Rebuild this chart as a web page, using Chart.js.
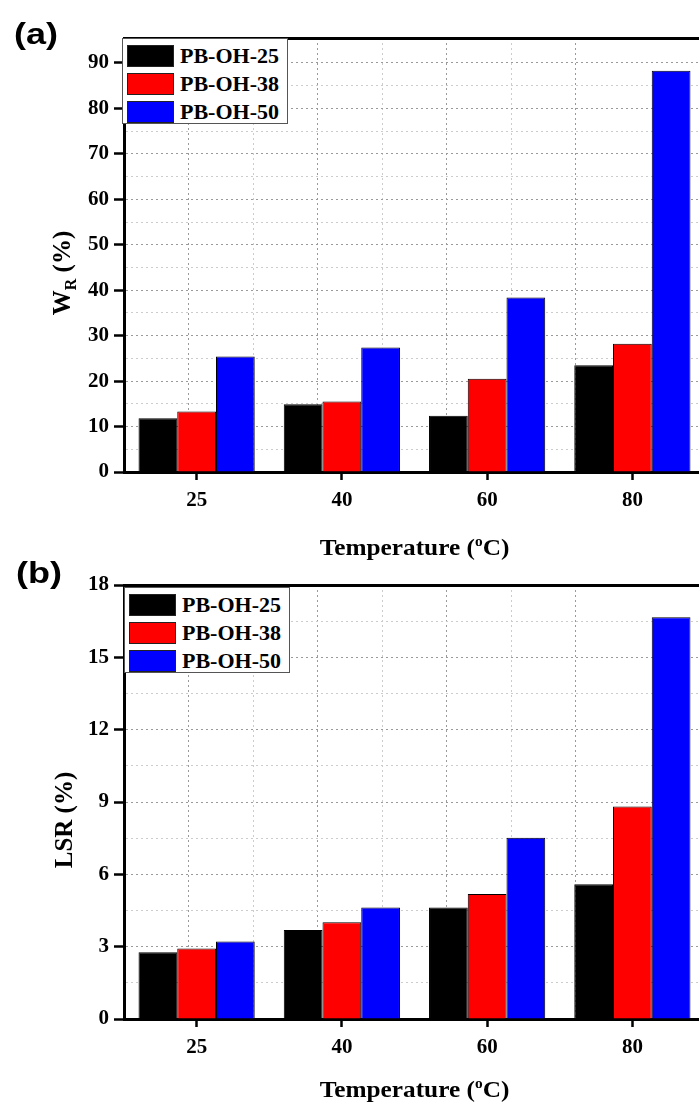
<!DOCTYPE html>
<html>
<head>
<meta charset="utf-8">
<script src="https://cdn.jsdelivr.net/npm/chart.js@4.4.0/dist/chart.umd.min.js"></script>
<style>
  html, body { margin: 0; padding: 0; background: #fff; overflow: hidden; width: 699px; height: 1103px; }
  #page { position: relative; width: 699px; height: 1103px; overflow: hidden; }
  #page canvas { position: absolute; left: 0; display: block; }
  .legend { position: absolute; background: #fff; border: 1px solid #555; box-sizing: border-box;
            font: bold 22px 'Liberation Serif', 'Times New Roman', serif; color: #000; }
  .legend .sw { position: absolute; left: 4px; width: 47px; height: 22px; border: 1px solid #222; box-sizing: border-box; }
  .legend .lab { position: absolute; left: 57px; line-height: 22px; white-space: nowrap; }
</style>
</head>
<body>
<div id="page">
  <canvas id="chartA" width="712" height="575" style="top:0"></canvas>
  <canvas id="chartB" width="712" height="558" style="top:545px"></canvas>
</div>
<script>
// data
const temperatures = ['25', '40', '60', '80'];
const seriesNames = ['PB-OH-25', 'PB-OH-38', 'PB-OH-50'];
const seriesColors = ['#000000', '#ff0000', '#0000ff'];

// (a) W_R (%)
const wr25 = [11.8, 14.9, 12.4, 23.5];
const wr38 = [13.3, 15.5, 20.5, 28.2];
const wr50 = [25.4, 27.4, 38.4, 88.3];

// (b) LSR (%)
const lsr25 = [2.77, 3.69, 4.62, 5.59];
const lsr38 = [2.92, 4.01, 5.18, 8.81];
const lsr50 = [3.21, 4.62, 7.52, 16.66];

const serif = "'Liberation Serif', 'Times New Roman', serif";
const tickFont = { family: serif, size: 21, weight: 'bold' };

function drawRich(ctx, parts, size, x, y, stretch) {
  const base = 'bold ' + size + 'px ' + serif;
  const small = 'bold ' + Math.round(size * 0.62) + 'px ' + serif;
  let w = 0;
  parts.forEach(p => { ctx.font = p.s ? small : base; p.w = ctx.measureText(p.t).width; w += p.w; });
  ctx.save();
  ctx.translate(x, y);
  ctx.scale(stretch, 1);
  let cx = -w / 2;
  parts.forEach(p => {
    ctx.font = p.s ? small : base;
    const dy = p.s === 'sup' ? -size * 0.4 : (p.s === 'sub' ? size * 0.24 : 0);
    ctx.fillText(p.t, cx, dy);
    cx += p.w;
  });
  ctx.restore();
}

// axis titles with sub/superscripts and the panel letter
const richTitles = {
  id: 'richTitles',
  afterDraw(chart, args, o) {
    const { ctx, chartArea } = chart;
    ctx.save();
    ctx.fillStyle = '#000';
    ctx.textAlign = 'left';
    ctx.textBaseline = 'alphabetic';
    drawRich(ctx, [{ t: 'Temperature (' }, { t: 'o', s: 'sup' }, { t: 'C)' }], 23,
      (chartArea.left + chartArea.right) / 2, chartArea.bottom + o.xTitleOffset, 1.1);
    ctx.save();
    ctx.translate(o.yTitleX, o.yTitleY);
    ctx.rotate(-Math.PI / 2);
    drawRich(ctx, o.yTitle, 25, 0, 0, 1);
    ctx.restore();
    ctx.font = "bold 30px 'Liberation Sans', Arial, sans-serif";
    ctx.translate(o.panelX, o.panelY);
    ctx.scale(1.2, 1);
    ctx.fillText(o.panel, 0, 0);
    ctx.restore();
  }
};

function isMult(v, step) {
  const r = v / step;
  return Math.abs(r - Math.round(r)) < 1e-6;
}

function buildChart(id, seriesData, cfg) {
  return new Chart(document.getElementById(id), {
    type: 'bar',
    data: {
      labels: temperatures,
      datasets: seriesNames.map((name, i) => ({
        label: name,
        data: seriesData[i],
        backgroundColor: seriesColors[i],
        borderColor: '#000',
        borderWidth: 1,
        categoryPercentage: 0.8,
        barPercentage: 1.0
      }))
    },
    options: {
      responsive: false,
      animation: false,
      layout: { padding: { top: cfg.top, right: 7, left: 0, bottom: 0 } },
      plugins: {
        legend: { display: false },
        tooltip: { enabled: false },
        richTitles: cfg.titles
      },
      scales: {
        x: {
          ticks: { color: '#000', font: tickFont, padding: 8 },
          grid: { offset: false, drawOnChartArea: false, tickLength: 8, tickWidth: 2.5, tickColor: '#000' },
          border: { color: '#000', width: 3 },
          afterFit: s => { s.height = cfg.bottom; }
        },
        xg: {
          type: 'linear', position: 'bottom',
          min: -0.5, max: temperatures.length - 0.5,
          ticks: { display: false, stepSize: 0.5 },
          grid: {
            drawTicks: false, lineWidth: 1,
            color: c => {
              if (!c.tick) return '#cccccc';
              const v = c.tick.value;
              if (v <= -0.5 || v >= temperatures.length - 0.5) return 'transparent';
              return isMult(v, 1) ? '#9a9a9a' : '#cccccc';
            }
          },
          border: { display: false, dash: [2, 3] }
        },
        xt: {
          type: 'linear', position: 'top', min: 0, max: 1,
          ticks: { display: false },
          grid: { drawOnChartArea: false, drawTicks: false },
          border: { color: '#000', width: 3 }
        },
        y: {
          min: 0, max: cfg.max,
          ticks: {
            stepSize: cfg.minor, autoSkip: false, color: '#000', font: tickFont, padding: 5,
            callback: v => isMult(v, cfg.major) ? v : ''
          },
          grid: {
            lineWidth: 1, tickLength: 10, tickWidth: 2.5,
            color: c => {
              if (!c.tick) return '#cccccc';
              const v = c.tick.value;
              if (v <= 0 || v >= cfg.max - 0.6) return 'transparent';
              return isMult(v, cfg.major) ? '#9a9a9a' : '#cccccc';
            },
            tickColor: c => (c.tick && isMult(c.tick.value, cfg.major)) ? '#000' : 'transparent'
          },
          border: { color: '#000', width: 3, dash: [2, 3] },
          afterFit: s => { s.width = 124; }
        },
        yr: {
          type: 'linear', position: 'right', min: 0, max: 1,
          ticks: { display: false },
          grid: { drawOnChartArea: false, drawTicks: false },
          border: { color: '#000', width: 3 }
        }
      }
    },
    plugins: [richTitles]
  });
}

function buildLegend(left, top) {
  const box = document.createElement('div');
  box.className = 'legend';
  box.style.left = left + 'px';
  box.style.top = top + 'px';
  box.style.width = '166px';
  box.style.height = '86px';
  seriesNames.forEach((name, i) => {
    const sw = document.createElement('div');
    sw.className = 'sw';
    sw.style.top = (6 + i * 28) + 'px';
    sw.style.background = seriesColors[i];
    const lab = document.createElement('div');
    lab.className = 'lab';
    lab.style.top = (6 + i * 28) + 'px';
    lab.textContent = name;
    box.appendChild(sw);
    box.appendChild(lab);
  });
  document.getElementById('page').appendChild(box);
}

buildChart('chartA', [wr25, wr38, wr50], {
  top: 38, bottom: 103, max: 95.5, minor: 5, major: 10,
  titles: {
    yTitle: [{ t: 'W' }, { t: 'R', s: 'sub' }, { t: ' (%)' }],
    yTitleX: 70, yTitleY: 273, xTitleOffset: 83,
    panel: '(a)', panelX: 14, panelY: 44
  }
});

buildChart('chartB', [lsr25, lsr38, lsr50], {
  top: 40, bottom: 84, max: 18, minor: 1.5, major: 3,
  titles: {
    yTitle: [{ t: 'LSR (%)' }],
    yTitleX: 72, yTitleY: 275, xTitleOffset: 78,
    panel: '(b)', panelX: 16, panelY: 38
  }
});

buildLegend(122, 38);
buildLegend(124, 587);
</script>
</body>
</html>
